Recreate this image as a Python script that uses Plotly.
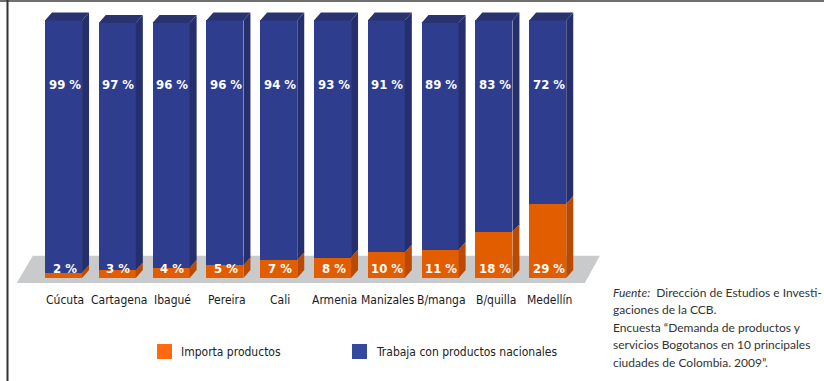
import numpy as np
import plotly.graph_objects as go

# Survey data: share of businesses per city
cities = ["Cúcuta", "Cartagena", "Ibagué", "Pereira", "Cali",
          "Armenia", "Manizales", "B/manga", "B/quilla", "Medellín"]
importa = [2, 3, 4, 5, 7, 8, 10, 11, 18, 29]
nacional = [99, 97, 96, 96, 94, 93, 91, 89, 83, 72]

series_names = ["Importa productos", "Trabaja con productos nacionales"]

# Colours
ORANGE = "#e25c00"
ORANGE_SIDE = "#b94a00"
BLUE = "#2f3d8e"
BLUE_SIDE = "#252f6e"
BLUE_TOP = "#28336f"
FLOOR = "#c9cacc"
LEG_ORANGE = "#ff6a10"
LEG_BLUE = "#3548a0"

NARROW = "DejaVu Sans Condensed, Liberation Sans Narrow, sans-serif"

n = len(cities)
xs = np.arange(n, dtype=float)
bw = 0.69          # bar width (category units)
dx, dy = 0.13, 3.1  # depth offsets for the 3D look

fig = go.Figure()

# front faces (stacked bars)
fig.add_trace(go.Bar(x=xs, y=importa, width=bw, marker=dict(color=ORANGE, line=dict(width=0)),
                     name=series_names[0], showlegend=False))
fig.add_trace(go.Bar(x=xs, y=nacional, width=bw, marker=dict(color=BLUE, line=dict(width=0)),
                     name=series_names[1], showlegend=False))


def face(xpts, ypts, color):
    fig.add_trace(go.Scatter(x=xpts, y=ypts, fill="toself", fillcolor=color,
                             mode="lines", line=dict(width=0), hoverinfo="skip",
                             showlegend=False))


# side and top faces derived from the stacked values
for x, a, b in zip(xs, importa, nacional):
    xr = x + bw / 2
    xl = x - bw / 2
    top = a + b
    face([xr, xr + dx, xr + dx, xr, xr], [0, dy, a + dy, a, 0], ORANGE_SIDE)
    face([xr, xr + dx, xr + dx, xr, xr], [a, a + dy, top + dy, top, a], BLUE_SIDE)
    face([xl, xl + dx, xr + dx, xr, xl], [top, top + dy, top + dy, top, top], BLUE_TOP)

annotations = []
for x, a, b, c in zip(xs, importa, nacional, cities):
    annotations.append(dict(x=x + 0.02, y=76, xref="x", yref="y", text=f"<b>{b} %</b>", showarrow=False,
                            font=dict(family=NARROW, size=13, color="white")))
    annotations.append(dict(x=x + 0.02, y=3.9, xref="x", yref="y", text=f"<b>{a} %</b>", showarrow=False,
                            font=dict(family=NARROW, size=13, color="white")))
    annotations.append(dict(x=x + 0.03, y=-8.7, xref="x", yref="y", text=c, showarrow=False,
                            font=dict(family=NARROW, size=12, color="#1a1a1a")))

# floor platform under the bars (drawn beneath the traces)
W, H = 824, 381
fl, fr = xs[0] - 0.87, xs[-1] + 0.69
floor_path = (f"M {fl},-2 L {fr},-2 L {fr + 0.28},8.7 L {fl + 0.30},8.7 Z")
shapes = [dict(type="path", xref="x", yref="y", path=floor_path,
               fillcolor=FLOOR, line=dict(width=0), layer="below")]

# legend
leg = [(157, LEG_ORANGE, series_names[0]), (352, LEG_BLUE, series_names[1])]
for px, col, label in leg:
    shapes.append(dict(type="rect", xref="paper", yref="paper",
                       x0=px / W, x1=(px + 15) / W,
                       y0=1 - 359 / H, y1=1 - 344 / H,
                       fillcolor=col, line=dict(width=0)))
    annotations.append(dict(x=(px + 22) / W, y=1 - 352 / H, xref="paper", yref="paper",
                            xanchor="left", yanchor="middle", text=label, showarrow=False,
                            font=dict(family=NARROW, size=12, color="#222222")))

# source note
source_lines = [
    "<i>Fuente:</i>  Dirección de Estudios e Investi-",
    "gaciones de la CCB.",
    "Encuesta “Demanda de productos y",
    "servicios Bogotanos en 10 principales",
    "ciudades de Colombia. 2009”.",
]
for k, line in enumerate(source_lines):
    annotations.append(dict(x=611 / W, y=1 - (292 + 17.5 * k) / H, xref="paper", yref="paper",
                            xanchor="left", yanchor="middle", text=line, showarrow=False,
                            font=dict(family="Lato, Open Sans, sans-serif", size=12,
                                      color="#333333")))

# frame lines
shapes.append(dict(type="line", xref="paper", yref="paper", x0=0, x1=1, y0=1 - 1 / H, y1=1 - 1 / H,
                   line=dict(color="#6f6f6f", width=2)))
shapes.append(dict(type="line", xref="paper", yref="paper", x0=7.5 / W, x1=7.5 / W, y0=0, y1=1,
                   line=dict(color="#333333", width=2)))

fig.update_layout(
    width=W, height=H,
    margin=dict(l=0, r=0, t=0, b=0),
    barmode="stack", bargap=0,
    plot_bgcolor="white", paper_bgcolor="white",
    xaxis=dict(range=[-1.180, 14.136], visible=False, fixedrange=True),
    yaxis=dict(range=[-40.4, 109.0], visible=False, fixedrange=True),
    annotations=annotations, shapes=shapes,
    showlegend=False,
)

fig.write_html("out.html")
